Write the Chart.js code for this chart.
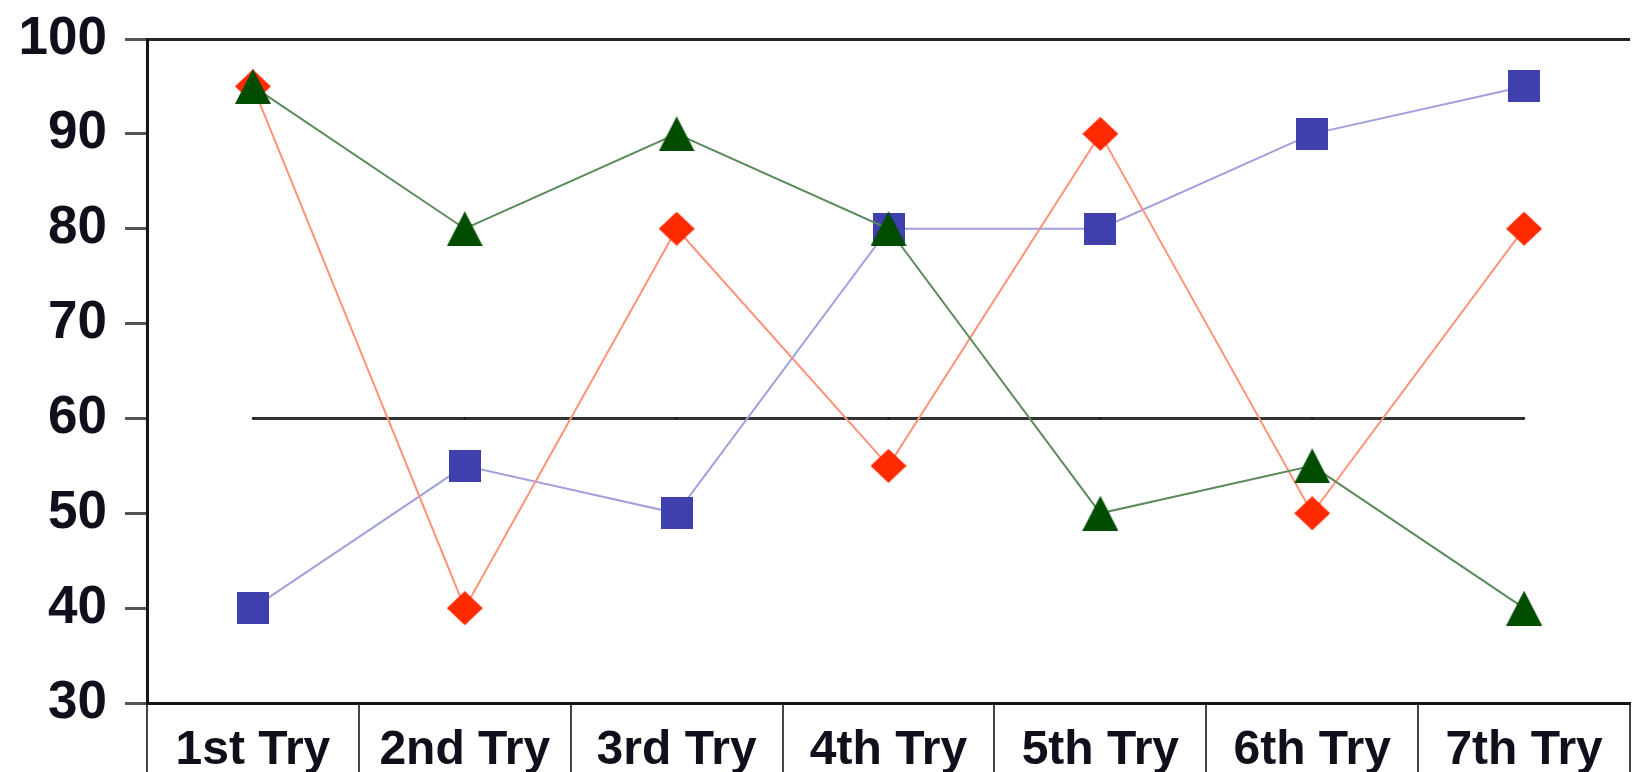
<!DOCTYPE html>
<html>
<head>
<meta charset="utf-8">
<title>Tries</title>
<script src="https://cdn.jsdelivr.net/npm/chart.js@4/dist/chart.umd.min.js"></script>
<style>
  html, body { margin: 0; padding: 0; background: #ffffff; overflow: hidden; }
  #chart { display: block; }
</style>
</head>
<body>
<canvas id="chart" width="1650" height="772"></canvas>
<script>
// Categories and series
const tries = ['1st Try', '2nd Try', '3rd Try', '4th Try', '5th Try', '6th Try', '7th Try'];
const blueScores = [40, 55, 50, 80, 80, 90, 95];
const redScores = [95, 40, 80, 55, 90, 50, 80];
const greenScores = [95, 80, 90, 80, 50, 55, 40];
const passMark = [60, 60, 60, 60, 60, 60, 60];
const yTicks = [30, 40, 50, 60, 70, 80, 90, 100];

const FONT = '"Liberation Sans", Arial, Helvetica, sans-serif';
const TEXT = '#10101c';

// Marker shapes painted on small canvases, centred on each point
function marker(w, h, color, draw) {
  const c = document.createElement('canvas');
  c.width = w; c.height = h;
  const g = c.getContext('2d');
  g.fillStyle = color;
  g.beginPath();
  draw(g, w, h);
  g.closePath();
  g.fill();
  return c;
}
const squareMark = marker(32, 32, '#3f3fae', (g, w, h) => { g.rect(0, 0, w, h); });
const diamondMark = marker(36, 34, '#ff2a00', (g, w, h) => {
  g.moveTo(w / 2, 0); g.lineTo(w, h / 2); g.lineTo(w / 2, h); g.lineTo(0, h / 2);
});
const triangleMark = marker(36, 35, '#004d00', (g, w, h) => {
  g.moveTo(w / 2, 0); g.lineTo(w, h); g.lineTo(0, h);
});

new Chart(document.getElementById('chart'), {
  type: 'line',
  data: {
    labels: tries,
    datasets: [
      {
        label: 'Green',
        data: greenScores,
        borderColor: '#5c8a5c',
        borderWidth: 2,
        pointStyle: triangleMark,
        pointRadius: 18,
        pointHoverRadius: 18
      },
      {
        label: 'Red',
        data: redScores,
        borderColor: '#ff9278',
        borderWidth: 2,
        pointStyle: diamondMark,
        pointRadius: 18,
        pointHoverRadius: 18
      },
      {
        label: 'Blue',
        data: blueScores,
        borderColor: '#a0a0dc',
        borderWidth: 2,
        pointStyle: squareMark,
        pointRadius: 16,
        pointHoverRadius: 16
      },
      {
        label: 'Pass mark',
        data: passMark,
        borderColor: '#333333',
        borderWidth: 3,
        pointStyle: 'rect',
        pointRadius: 1.5,
        pointBackgroundColor: '#111111',
        pointBorderWidth: 0
      }
    ]
  },
  options: {
    responsive: false,
    animation: false,
    devicePixelRatio: 1,
    layout: { padding: { top: 39, right: 0, bottom: 0, left: 0 } },
    plugins: {
      legend: { display: false },
      tooltip: { enabled: false }
    },
    elements: { line: { tension: 0 } },
    scales: {
      x: {
        offset: true,
        grid: {
          offset: true,
          drawOnChartArea: false,
          color: '#444444',
          lineWidth: 2,
          tickLength: 69
        },
        border: { display: true, color: '#151515', width: 3 },
        ticks: {
          padding: -50,
          autoSkip: false,
          maxRotation: 0,
          color: TEXT,
          font: { family: FONT, size: 48, weight: 'bold' }
        },
        afterFit: (s) => { s.height = 69; }
      },
      y: {
        min: yTicks[0],
        max: yTicks[yTicks.length - 1],
        afterBuildTicks: (s) => { s.ticks = yTicks.map(v => ({ value: v })); },
        grid: {
          drawOnChartArea: true,
          color: (c) => (c.tick && c.tick.value === 100 ? '#262626' : 'rgba(0,0,0,0)'),
          tickColor: '#555555',
          lineWidth: 3,
          tickLength: 22
        },
        border: { display: true, color: '#151515', width: 3 },
        ticks: {
          padding: 18,
          color: TEXT,
          font: { family: FONT, size: 53, weight: 'bold', lineHeight: 0.3 }
        },
        afterFit: (s) => { s.width = 147; }
      }
    }
  }
});
</script>
</body>
</html>
